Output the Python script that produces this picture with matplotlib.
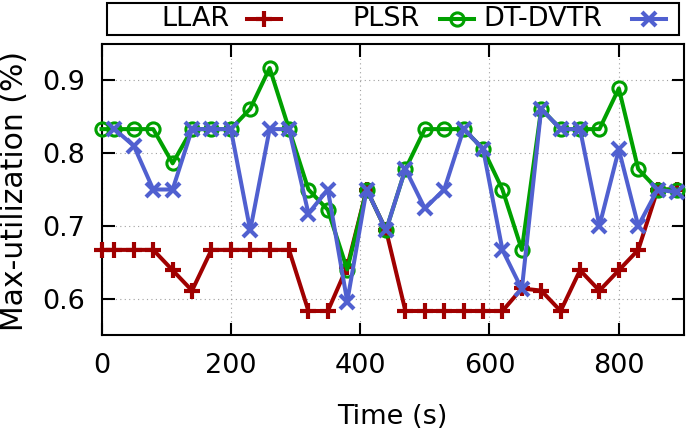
import matplotlib
matplotlib.use("Agg")
import matplotlib.pyplot as plt
from matplotlib.lines import Line2D
from matplotlib.patches import Rectangle

# sampling instants (s)
times = [0, 20, 50, 80, 110, 140, 170, 200, 230, 260, 290, 320, 350, 380, 410, 440,
         470, 500, 530, 560, 590, 620, 650, 680, 710, 740, 770, 800, 830, 860, 890]

llar = [0.667, 0.667, 0.667, 0.667, 0.639, 0.611, 0.667, 0.667, 0.667, 0.667, 0.667,
        0.583, 0.583, 0.644, 0.750, 0.694, 0.583, 0.583, 0.583, 0.583, 0.583, 0.583,
        0.614, 0.611, 0.583, 0.639, 0.611, 0.639, 0.667, 0.750, 0.750]

plsr = [0.833, 0.833, 0.833, 0.833, 0.786, 0.833, 0.833, 0.833, 0.861, 0.917, 0.833,
        0.750, 0.722, 0.640, 0.750, 0.694, 0.778, 0.833, 0.833, 0.833, 0.806, 0.750,
        0.667, 0.861, 0.833, 0.833, 0.833, 0.889, 0.778, 0.750, 0.750]

# DT-DVTR has no sample at t=0
dvtr_times = times[1:]
dvtr = [0.833, 0.810, 0.750, 0.750, 0.833, 0.833, 0.833, 0.694, 0.833, 0.833,
        0.717, 0.750, 0.596, 0.750, 0.694, 0.778, 0.724, 0.750, 0.833, 0.806, 0.667,
        0.613, 0.861, 0.833, 0.833, 0.700, 0.805, 0.700, 0.750, 0.746]

styles = {
    "LLAR": dict(color="#a00000", marker="+", markersize=12, markeredgewidth=3, linewidth=2.9),
    "PLSR": dict(color="#00a000", marker="o", markersize=9.5, markeredgewidth=2.2,
                 markerfacecolor="none", linewidth=2.9),
    "DT-DVTR": dict(color="#5060d0", marker="x", markersize=10, markeredgewidth=3, linewidth=2.9),
}

W, H = 686, 430
fig = plt.figure(figsize=(W / 100, H / 100), dpi=100)
ax = fig.add_axes([101.5 / W, 1 - 335 / H, (683.5 - 101.5) / W, (335 - 44) / H])

ax.plot(times, llar, clip_on=False, zorder=3, **styles["LLAR"])
ax.plot(times, plsr, clip_on=False, zorder=4, **styles["PLSR"])
ax.plot(dvtr_times, dvtr, clip_on=False, zorder=5, **styles["DT-DVTR"])

ax.set_xlim(0, 900)
ax.set_ylim(0.55, 0.95)
ax.set_xticks([0, 200, 400, 600, 800])
ax.set_yticks([0.6, 0.7, 0.8, 0.9])
ax.set_yticklabels(["0.6", "0.7", "0.8", "0.9"])

ax.grid(True, color="#a0a0a0", linestyle=(0, (1, 3)), linewidth=0.8)
ax.set_axisbelow(True)
for s in ax.spines.values():
    s.set_linewidth(1.5)
ax.tick_params(direction="in", top=True, right=True, length=9, width=1.5,
               labelsize=19.5, pad=13)
ax.tick_params(axis="y", pad=12)

ax.set_xlabel("Time (s)", fontsize=19.5, labelpad=18)
ax.set_ylabel("Max-utilization (%)", fontsize=21.5)
ax.yaxis.set_label_coords(-0.124, 0.495)

# gnuplot-like key: right-justified label followed by the sample
fig.add_artist(Rectangle((107 / W, 1 - 34.5 / H), (679 - 107) / W, (34.5 - 2.5) / H,
                         transform=fig.transFigure, fill=False, edgecolor="black",
                         linewidth=1.5))
key_y = 1 - 18.5 / H
for name, text_right, sample_left in [("LLAR", 230, 247), ("PLSR", 420, 440),
                                      ("DT-DVTR", 602, 632)]:
    fig.text(text_right / W, key_y, name, ha="right", va="center", fontsize=19.5)
    st = styles[name]
    fig.add_artist(Line2D([sample_left / W, (sample_left + 34) / W], [key_y, key_y],
                          transform=fig.transFigure, color=st["color"],
                          linewidth=st["linewidth"]))
    mk = {k: v for k, v in st.items() if k != "linewidth"}
    fig.add_artist(Line2D([(sample_left + 17) / W], [key_y], transform=fig.transFigure,
                          linestyle="none", **mk))

fig.savefig("out.png", dpi=100)
